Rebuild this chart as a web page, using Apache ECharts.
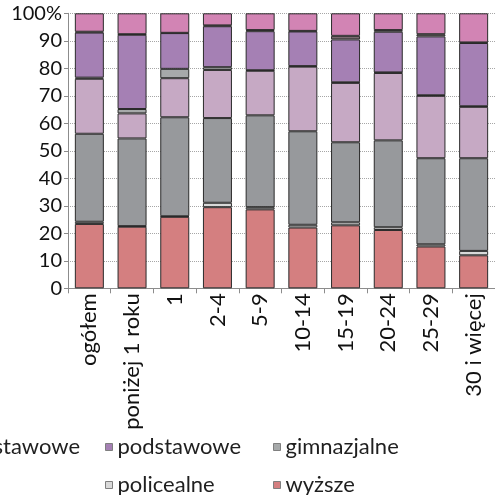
<!DOCTYPE html>
<html>
<head>
<meta charset="utf-8">
<script src="https://cdn.jsdelivr.net/npm/echarts@6/dist/echarts.min.js"></script>
<style>
html,body{margin:0;padding:0;background:#fff;}
#chart{width:495px;height:495px;}
</style>
</head>
<body>
<div id="chart"></div>
<script>
// Categories (work experience groups)
const categories = ['ogółem', 'poniżej 1 roku', '1', '2-4', '5-9', '10-14', '15-19', '20-24', '25-29', '30 i więcej'];
// Series values (% share), bottom of stack to top
const wyzsze        = [23.4, 22.4, 26.0, 29.5, 28.7, 22.1, 22.9, 21.2, 15.2, 12.0];
const policealne    = [0.8, 0.2, 0.2, 1.6, 0.8, 1.0, 1.1, 1.0, 0.8, 1.6];
const srednie       = [32.0, 31.9, 36.0, 30.8, 33.4, 34.0, 29.1, 31.6, 31.3, 33.7];
const zasadnicze    = [20.0, 9.1, 14.2, 17.5, 16.2, 23.5, 21.6, 24.5, 22.7, 18.7];
const gimnazjalne   = [0.4, 1.6, 3.4, 1.0, 0.2, 0.2, 0.2, 0.2, 0.2, 0.2];
const podstawowe    = [16.4, 27.0, 13.0, 14.9, 14.2, 12.6, 15.6, 14.8, 21.4, 23.0];
const niepelne      = [0.3, 0.2, 0.1, 0.3, 0.4, 0.2, 1.3, 0.6, 0.8, 0.2];
const nieustalone   = [6.7, 7.6, 7.1, 4.4, 6.1, 6.4, 8.2, 6.1, 7.6, 10.6];
// Tick labels
const yTicks = [0, 10, 20, 30, 40, 50, 60, 70, 80, 90, 100];

const seriesDefs = [
  {name: 'wyższe', data: wyzsze, color: '#d47f80'},
  {name: 'policealne', data: policealne, color: '#d9d9d9'},
  {name: 'średnie', data: srednie, color: '#97999c'},
  {name: 'zasadnicze zawodowe', data: zasadnicze, color: '#c6a9c4'},
  {name: 'gimnazjalne', data: gimnazjalne, color: '#a6a9aa'},
  {name: 'podstawowe', data: podstawowe, color: '#a580b4'},
  {name: 'niepełne podstawowe', data: niepelne, color: '#7a6a70'},
  {name: 'nieustalone', data: nieustalone, color: '#d284b4'}
];

const FONT = 'Lato';
const FS = 22;

function legendAt(name, pos) {
  return Object.assign({
    data: [name],
    orient: 'horizontal',
    padding: 0,
    itemWidth: 7,
    itemHeight: 7,
    icon: 'rect',
    itemStyle: {borderColor: '#7f7f7f', borderWidth: 1},
    textStyle: {fontFamily: FONT, fontSize: FS, color: '#1f1f1f'},
    selectedMode: false
  }, pos);
}

const chart = echarts.init(document.getElementById('chart'), null, {renderer: 'canvas'});
chart.setOption({
  animation: false,
  backgroundColor: '#ffffff',
  grid: {left: 68, right: -13, top: 13.3, bottom: 206.7, containLabel: false},
  xAxis: {
    type: 'category',
    data: categories,
    axisLine: {show: true, lineStyle: {color: '#8c8c8c', width: 1}},
    axisTick: {show: true, length: 5, lineStyle: {color: '#8c8c8c'}},
    axisLabel: {rotate: 90, margin: 5, interval: 0, fontFamily: FONT, fontSize: FS, color: '#111'}
  },
  yAxis: {
    type: 'value',
    min: yTicks[0],
    max: yTicks[yTicks.length - 1],
    interval: 10,
    axisLine: {show: true, lineStyle: {color: '#8c8c8c', width: 1}},
    axisTick: {show: true, length: 4, lineStyle: {color: '#8c8c8c'}},
    splitLine: {show: true, lineStyle: {color: '#a6a6a6', type: 'dotted', width: 1}},
    axisLabel: {
      margin: 6,
      fontFamily: FONT, fontSize: 20, color: '#111',
      formatter: v => (v === 100 ? '100%' : String(v))
    }
  },
  legend: [
    legendAt('niepełne podstawowe', {right: 415, top: 436}),
    legendAt('podstawowe', {left: 105, top: 436}),
    legendAt('gimnazjalne', {left: 273, top: 436}),
    legendAt('policealne', {left: 105, top: 474}),
    legendAt('wyższe', {left: 273, top: 474})
  ],
  series: seriesDefs.map(s => ({
    name: s.name,
    type: 'bar',
    stack: 'total',
    barWidth: 29,
    data: s.data,
    itemStyle: {color: s.color, borderColor: '#2b2b2b', borderWidth: 1},
    emphasis: {disabled: true}
  }))
});
</script>
</body>
</html>
